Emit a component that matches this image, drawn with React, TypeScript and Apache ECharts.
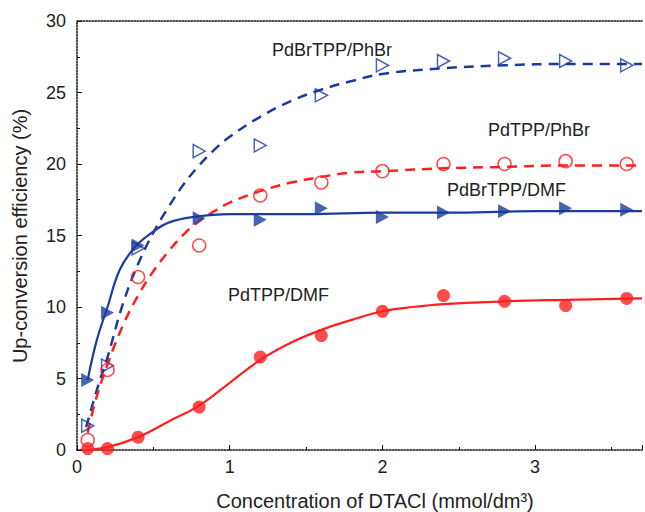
import React, { useEffect, useRef } from 'react';
import * as echarts from 'echarts';

// measured concentrations (mmol/dm3)
const concentrations = [0.07, 0.2, 0.4, 0.8, 1.2, 1.6, 2.0, 2.4, 2.8, 3.2, 3.6];
// measured up-conversion efficiencies (%)
const pdBrTppDmf = [4.9, 9.6, 14.3, 16.2, 16.1, 16.9, 16.3, 16.6, 16.7, 16.9, 16.8];
const pdBrTppPhBr = [1.7, 5.9, 14.1, 20.9, 21.3, 24.8, 26.9, 27.2, 27.4, 27.2, 26.9];
const pdTppPhBr = [0.7, 5.6, 12.1, 14.3, 17.8, 18.7, 19.5, 20.0, 20.0, 20.2, 20.0];
const pdTppDmf = [0.1, 0.1, 0.9, 3.0, 6.5, 8.0, 9.7, 10.8, 10.4, 10.1, 10.6];

// fitted curves
const fitBrDmfX = [0.07, 0.13, 0.2, 0.28, 0.38, 0.49, 0.6, 0.77, 1.0, 1.5, 2.0, 2.5, 3.0, 3.7];
const fitBrDmfY = [4.9, 7.7, 10.0, 12.6, 14.2, 15.2, 15.9, 16.3, 16.5, 16.5, 16.6, 16.6, 16.7, 16.7];

const fitBrPhBrX = [0.06, 0.13, 0.2, 0.3, 0.4, 0.5, 0.6, 0.7, 0.8, 0.9, 1.0, 1.2, 1.4, 1.6, 1.8, 2.0, 2.4, 2.8, 3.2, 3.7];
const fitBrPhBrY = [1.6, 4.2, 6.5, 10.2, 13.0, 15.2, 17.0, 18.6, 19.9, 21.0, 21.9, 23.3, 24.4, 25.2, 25.8, 26.3, 26.7, 26.9, 27.0, 27.0];

const fitPhBrX = [0.07, 0.12, 0.2, 0.3, 0.4, 0.5, 0.6, 0.7, 0.8, 0.9, 1.0, 1.2, 1.4, 1.6, 1.8, 2.0, 2.4, 2.8, 3.2, 3.7];
const fitPhBrY = [1.2, 3.4, 6.0, 8.7, 10.8, 12.5, 13.9, 15.1, 16.0, 16.7, 17.3, 18.1, 18.7, 19.1, 19.4, 19.5, 19.7, 19.8, 19.9, 19.9];

const fitDmfX = [0.05, 0.2, 0.4, 0.6, 0.8, 1.0, 1.2, 1.4, 1.6, 1.8, 2.0, 2.2, 2.4, 2.8, 3.2, 3.7];
const fitDmfY = [0.0, 0.2, 0.9, 2.0, 3.1, 4.7, 6.3, 7.5, 8.4, 9.1, 9.7, 10.0, 10.2, 10.4, 10.5, 10.6];

const labels = ['PdBrTPP/PhBr', 'PdTPP/PhBr', 'PdBrTPP/DMF', 'PdTPP/DMF'];
const xTitle = 'Concentration of DTACl (mmol/dm³)';
const yTitle = 'Up-conversion efficiency (%)';

const BLUE = '#1b3b9e';
const RED = '#ff1f1f';
const FONT = 'Liberation Sans, Arial, Helvetica, sans-serif';
const TEXT = '#222';

const zip = (xs: number[], ys: number[]) => xs.map((x, i) => [x, ys[i]]);

export default function App() {
  const ref = useRef<HTMLDivElement>(null);
  useEffect(() => {
    document.body.style.margin = '0';
    const chart = echarts.init(ref.current!, null, { renderer: 'svg' });
    const axisLine = { show: true, lineStyle: { color: '#111', width: 1.5, type: 'dotted' as const } };
    const fitLine = (name: string, xs: number[], ys: number[], color: string, dashed: boolean) => ({
      name,
      type: 'line',
      data: zip(xs, ys),
      showSymbol: false,
      smooth: 0.4,
      z: 2,
      lineStyle: { color, width: dashed ? 2.5 : 2.2, type: dashed ? [10, 7] : 'solid' },
    });
    const points = (name: string, ys: number[], symbol: string, color: string, filled: boolean, size: any, rotate = 0) => ({
      name,
      type: 'scatter',
      data: zip(concentrations, ys),
      symbol,
      symbolSize: size,
      symbolRotate: rotate,
      z: 3,
      itemStyle: filled
        ? { color }
        : { color: 'rgba(255,255,255,0)', borderColor: color, borderWidth: 1.5 },
    });
    chart.setOption({
      animation: false,
      textStyle: { fontFamily: FONT },
      grid: { left: 77, top: 21, width: 575, height: 429 },
      xAxis: [
        {
          type: 'value',
          min: 0,
          max: 3.7,
          interval: 1,
          axisLine,
          splitLine: { show: false },
          axisTick: { show: true, inside: true, length: 5, lineStyle: { color: '#111' } },
          minorTick: { show: true, splitNumber: 2, length: 3, lineStyle: { color: '#111' } },
          axisLabel: {
            fontSize: 18,
            color: TEXT,
            margin: 8,
            fontFamily: FONT,
            formatter: (v: number) => (Number.isInteger(v) ? String(v) : ''),
          },
        },
        {
          type: 'value',
          position: 'top',
          min: 0,
          max: 3.7,
          axisLine,
          axisTick: { show: false },
          axisLabel: { show: false },
          splitLine: { show: false },
        },
      ],
      yAxis: {
        type: 'value',
        min: 0,
        max: 30,
        interval: 5,
        axisLine,
        splitLine: { show: false },
        axisTick: { show: true, inside: true, length: 5, lineStyle: { color: '#111' } },
        minorTick: { show: true, splitNumber: 2, length: 3, lineStyle: { color: '#111' } },
        axisLabel: { fontSize: 18, color: TEXT, margin: 11, fontFamily: FONT },
      },
      graphic: [
        { type: 'text', x: 272, y: 50, style: { text: labels[0], fontSize: 18, fill: TEXT, fontFamily: FONT, align: 'left', verticalAlign: 'middle' } },
        { type: 'text', x: 488, y: 130, style: { text: labels[1], fontSize: 18, fill: TEXT, fontFamily: FONT, align: 'left', verticalAlign: 'middle' } },
        { type: 'text', x: 447, y: 190, style: { text: labels[2], fontSize: 18, fill: TEXT, fontFamily: FONT, align: 'left', verticalAlign: 'middle' } },
        { type: 'text', x: 228, y: 295, style: { text: labels[3], fontSize: 18, fill: TEXT, fontFamily: FONT, align: 'left', verticalAlign: 'middle' } },
        { type: 'text', x: 375, y: 501, style: { text: xTitle, fontSize: 20, fill: TEXT, fontFamily: FONT, align: 'center', verticalAlign: 'middle' } },
        { type: 'text', x: 20, y: 236, rotation: Math.PI / 2, style: { text: yTitle, fontSize: 20, fill: TEXT, fontFamily: FONT, align: 'center', verticalAlign: 'middle' } },
      ],
      series: [
        fitLine('PdBrTPP/PhBr fit', fitBrPhBrX, fitBrPhBrY, BLUE, true),
        fitLine('PdTPP/PhBr fit', fitPhBrX, fitPhBrY, RED, true),
        fitLine('PdTPP/DMF fit', fitDmfX, fitDmfY, RED, false),
        fitLine('PdBrTPP/DMF fit', fitBrDmfX, fitBrDmfY, BLUE, false),
        points(labels[0], pdBrTppPhBr, 'triangle', BLUE, false, [13, 12], -90),
        points(labels[1], pdTppPhBr, 'circle', RED, false, 13),
        points(labels[3], pdTppDmf, 'circle', RED, true, 13),
        points(labels[2], pdBrTppDmf, 'triangle', BLUE, true, [14, 13], -90),
      ],
    });
    return () => chart.dispose();
  }, []);
  return <div ref={ref} style={{ width: 645, height: 512 }} />;
}
